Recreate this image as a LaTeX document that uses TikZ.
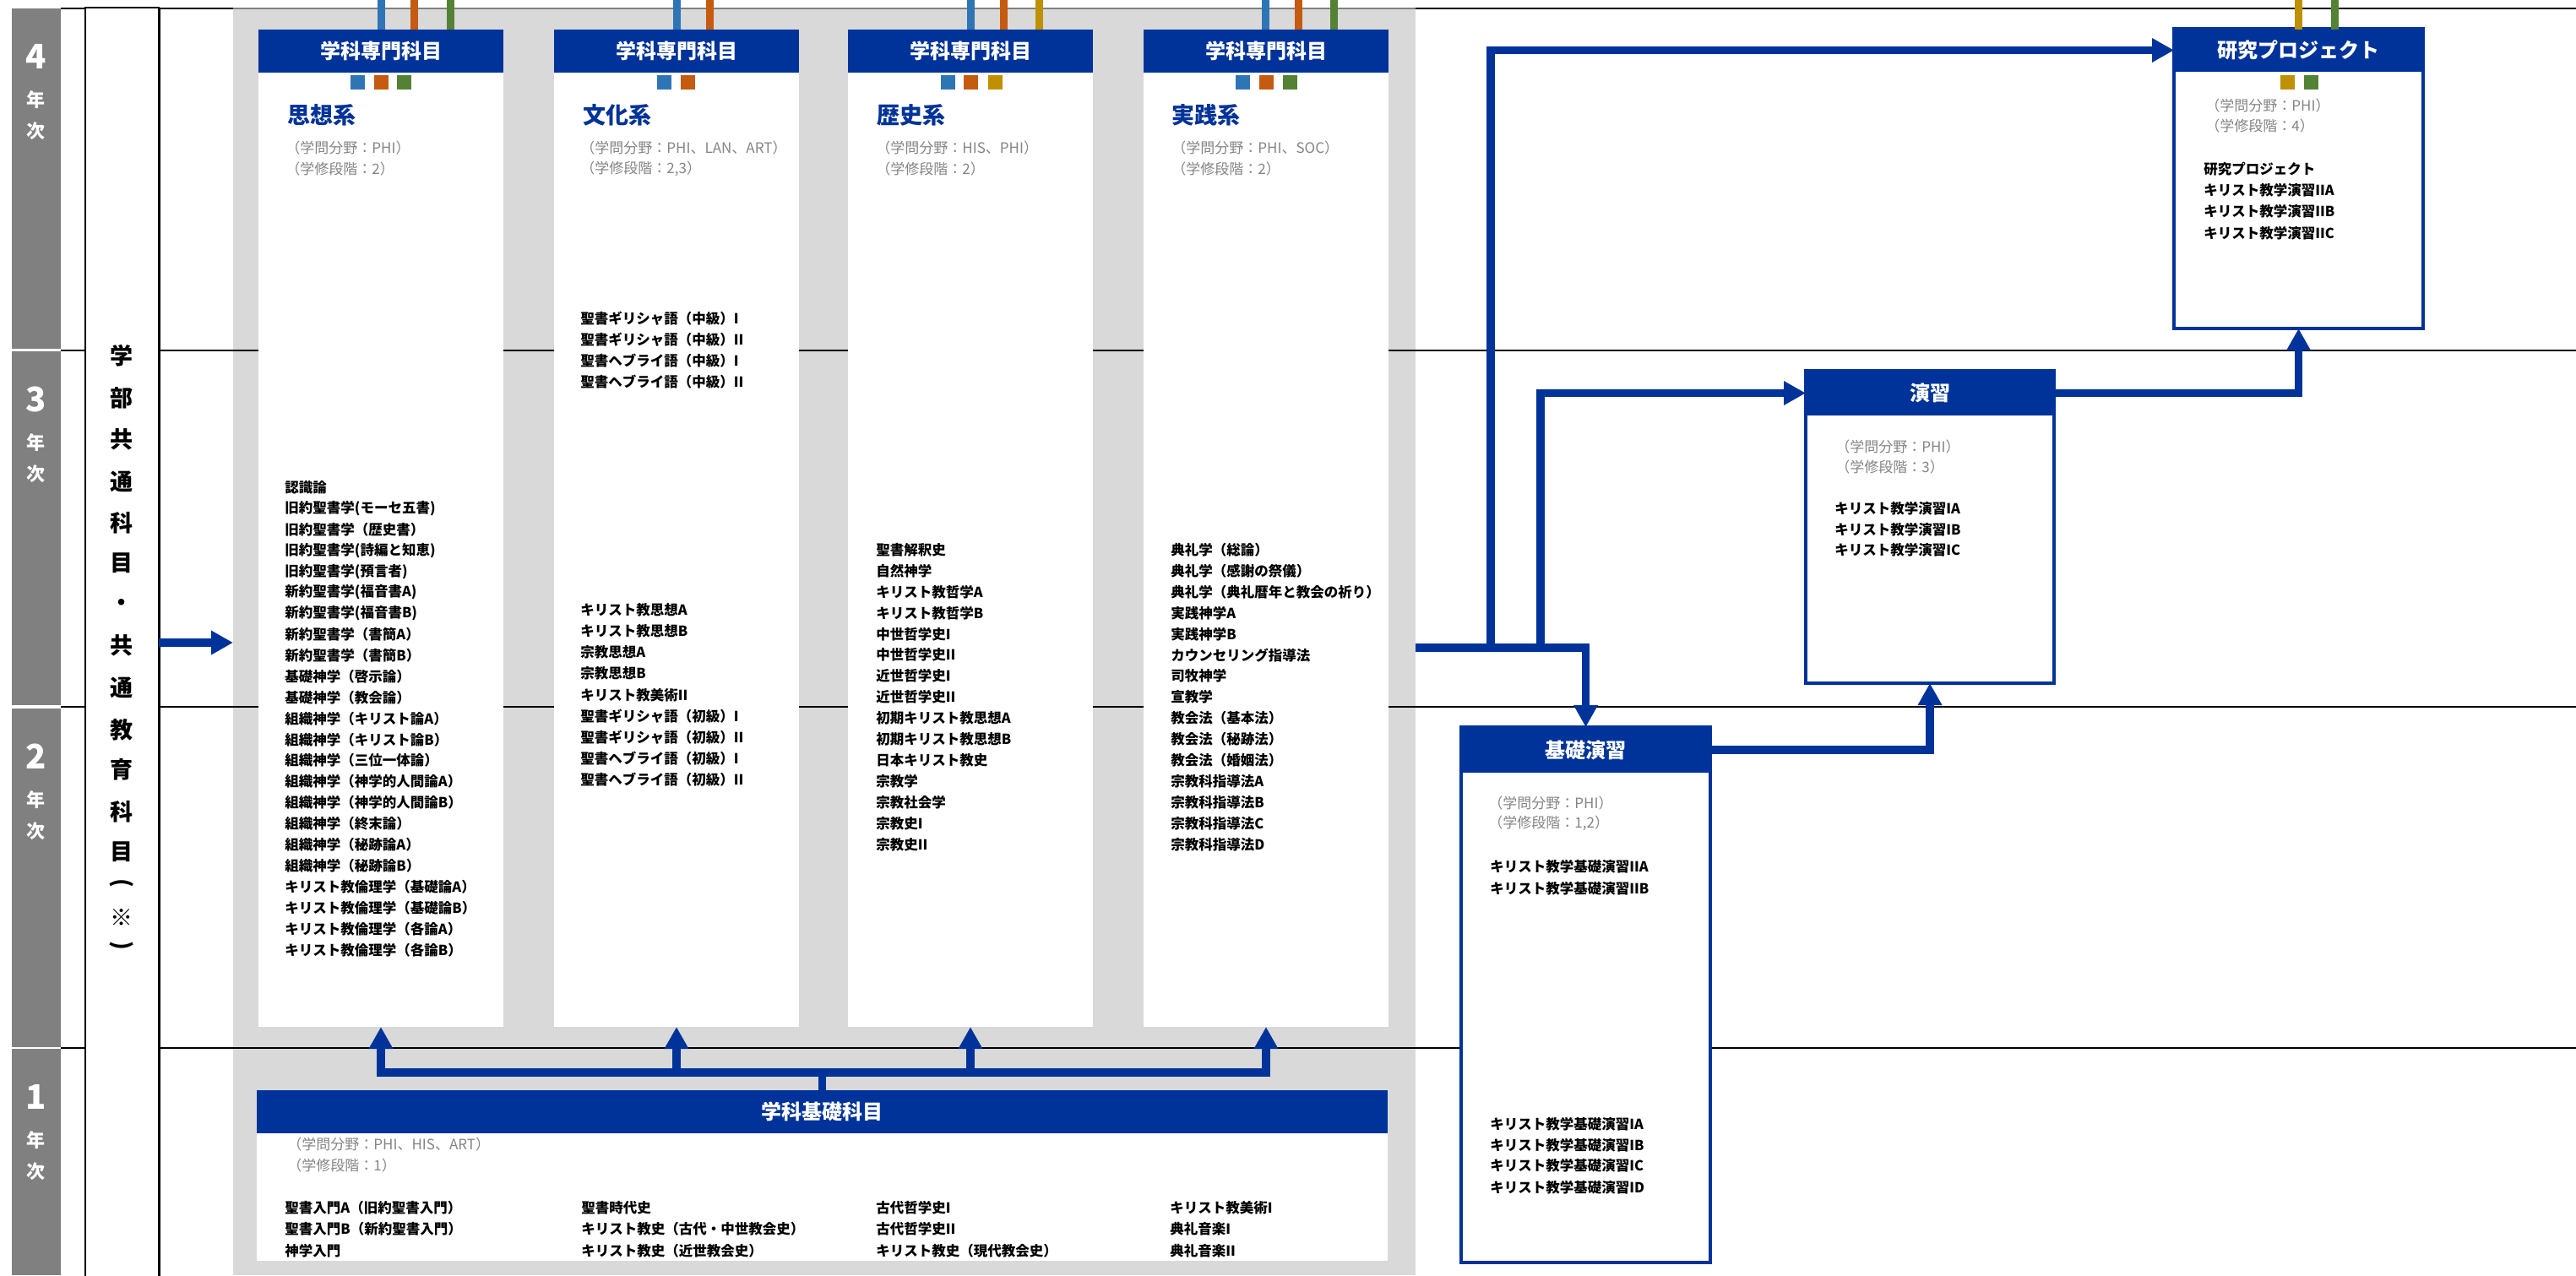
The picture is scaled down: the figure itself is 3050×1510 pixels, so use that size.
\documentclass[tikz,border=0pt]{standalone}
\usepackage{fontspec}
\setmainfont{Noto Sans CJK JP}
\usetikzlibrary{arrows.meta}
\definecolor{hdr}{HTML}{003399}
\definecolor{cblue}{HTML}{2E75B6}
\definecolor{corange}{HTML}{C55A11}
\definecolor{cgreen}{HTML}{548235}
\definecolor{cgold}{HTML}{BF9000}
\definecolor{panelgray}{HTML}{D9D9D9}
\definecolor{yeargray}{HTML}{808080}
\definecolor{subgray}{HTML}{858585}
\newcommand\mysq[2]{\fill[#1] ({#2-8.5},89) rectangle ({#2+8.5},106);}
\newcommand\mybar[2]{\draw[#1,line width=4.5pt] (#2,0) -- (#2,35);}
\begin{document}
\begin{tikzpicture}[x=0.5pt,y=-0.5pt,
  box/.style={inner sep=0pt, outer sep=0pt, anchor=north west},
  hdrbox/.style={box, fill=hdr, text=white, font=\fontsize{12pt}{13pt}\selectfont\bfseries},
  body/.style={box, fill=white},
  bbody/.style={box, fill=white, draw=hdr, line width=1.6pt},
  ttl/.style={anchor=west, inner sep=0pt, text=hdr, font=\fontsize{13.5pt}{15pt}\selectfont\bfseries},
  sub/.style={anchor=west, inner sep=0pt, text=subgray, font=\fontsize{8.5pt}{10pt}\selectfont},
  item/.style={anchor=west, inner sep=0pt, font=\fontsize{8.25pt}{10pt}\selectfont\bfseries},
  yr/.style={text=white, inner sep=0pt, font=\fontsize{20pt}{22pt}\selectfont\bfseries},
  yrs/.style={text=white, inner sep=0pt, font=\fontsize{11pt}{12pt}\selectfont\bfseries},
  vt/.style={inner sep=0pt, font=\fontsize{13.5pt}{15pt}\selectfont\bfseries},
  flow/.style={draw=hdr, line width=4.75pt},
  conn/.style={flow, -{Triangle[length=13pt,width=13.5pt]}},
  yline/.style={draw=black, line width=0.65pt}
]
\useasboundingbox (0,0) rectangle (3050,1510);

% year bands
\node[box, fill=yeargray, minimum width=29pt, minimum height=201.5pt] (y4) at (14,10) {};
\node[box, fill=yeargray, minimum width=29pt, minimum height=209.5pt] (y3) at (14,416) {};
\node[box, fill=yeargray, minimum width=29pt, minimum height=200.5pt] (y2) at (14,839) {};
\node[box, fill=yeargray, minimum width=29pt, minimum height=134pt] (y1) at (14,1242) {};
\foreach \n/\t in {4/10,3/416,2/839,1/1242} {
  \node[yr] (yn\n) at (43,{\t+57}) {\n};
  \node[yrs] (ya\n) at (43,{\t+108}) {年};
  \node[yrs] (yb\n) at (43,{\t+145}) {次};
}

% gray panel
\node[box, fill=panelgray, minimum width=700pt, minimum height=750pt] (panel) at (276,10) {};

% horizontal year lines
\foreach \yy in {415,837,1241} \draw[yline] (72,\yy) -- (3050,\yy);
\draw[yline] (72,10) -- (276,10);
\draw[yline] (1676,10) -- (3050,10);
\draw[line width=0.65pt, draw=gray] (276,10) -- (1676,10);

% left common-subject box
\node[box, fill=white, draw=black, line width=0.9pt, minimum width=43.5pt, minimum height=752pt] (leftbox) at (101,9) {};
\draw[line width=1.5pt] (leftbox.north east) -- (leftbox.south east);
\foreach \c/\yy [count=\k] in {学/421,部/471,共/520,通/570,科/619,目/667,・/716,共/764,通/814,教/864,育/911,科/961,目/1009,※/1086}
  \node[vt] (v\k) at (144,\yy) {\c};
\node[vt, rotate=-90] (vp1) at (144,1046) {(};
\node[vt, rotate=-90] (vp2) at (144,1120) {)};

% specialised columns
\foreach \i/\xx in {1/306,2/656,3/1004,4/1354} {
  \node[body, minimum width=145pt, minimum height=590.5pt] (b\i) at (\xx,35) {};
  \node[hdrbox, minimum width=145pt, minimum height=25.5pt] (h\i) at (\xx,35) {学科専門科目};
}

% colour bars and squares
\mybar{cblue}{451.5} \mybar{corange}{490.5} \mybar{cgreen}{533.5}
\mysq{cblue}{423} \mysq{corange}{451.5} \mysq{cgreen}{478.5}
\mybar{cblue}{801.5} \mybar{corange}{840}
\mysq{cblue}{786} \mysq{corange}{814.5}
\mybar{cblue}{1149.5} \mybar{corange}{1188.5} \mybar{cgold}{1230.5}
\mysq{cblue}{1122} \mysq{corange}{1149.5} \mysq{cgold}{1178}
\mybar{cblue}{1498.5} \mybar{corange}{1537.5} \mybar{cgreen}{1579.5}
\mysq{cblue}{1471.5} \mysq{corange}{1499.5} \mysq{cgreen}{1527.5}

% titles and sub texts
\node[ttl] (t1) at (340,136) {思想系};
\node[ttl] (t2) at (690,136) {文化系};
\node[ttl] (t3) at (1038,136) {歴史系};
\node[ttl] (t4) at (1387,136) {実践系};
\node[sub] (s1a) at (338,175) {（学問分野：PHI）};
\node[sub] (s1b) at (338,200) {（学修段階：2）};
\node[sub] (s2a) at (687,175) {（学問分野：PHI、LAN、ART）};
\node[sub] (s2b) at (687,200) {（学修段階：2,3）};
\node[sub] (s3a) at (1037,175) {（学問分野：HIS、PHI）};
\node[sub] (s3b) at (1037,200) {（学修段階：2）};
\node[sub] (s4a) at (1387,175) {（学問分野：PHI、SOC）};
\node[sub] (s4b) at (1387,200) {（学修段階：2）};

% column 1 items
\foreach \t [count=\n from 0] in {{認識論},{旧約聖書学(モーセ五書)},{旧約聖書学（歴史書）},{旧約聖書学(詩編と知恵)},{旧約聖書学(預言者)},{新約聖書学(福音書A)},{新約聖書学(福音書B)},{新約聖書学（書簡A）},{新約聖書学（書簡B）},{基礎神学（啓示論）},{基礎神学（教会論）},{組織神学（キリスト論A）},{組織神学（キリスト論B）},{組織神学（三位一体論）},{組織神学（神学的人間論A）},{組織神学（神学的人間論B）},{組織神学（終末論）},{組織神学（秘跡論A）},{組織神学（秘跡論B）},{キリスト教倫理学（基礎論A）},{キリスト教倫理学（基礎論B）},{キリスト教倫理学（各論A）},{キリスト教倫理学（各論B）}}
  \node[item] (c1i\n) at (337,{577+24.9*\n}) {\t};
% column 2 items
\foreach \t [count=\n from 0] in {{聖書ギリシャ語（中級）I},{聖書ギリシャ語（中級）II},{聖書ヘブライ語（中級）I},{聖書ヘブライ語（中級）II}}
  \node[item] (c2u\n) at (687,{377+25*\n}) {\t};
\foreach \t [count=\n from 0] in {{キリスト教思想A},{キリスト教思想B},{宗教思想A},{宗教思想B},{キリスト教美術II},{聖書ギリシャ語（初級）I},{聖書ギリシャ語（初級）II},{聖書ヘブライ語（初級）I},{聖書ヘブライ語（初級）II}}
  \node[item] (c2l\n) at (687,{722+25.2*\n}) {\t};
% column 3 items
\foreach \t [count=\n from 0] in {{聖書解釈史},{自然神学},{キリスト教哲学A},{キリスト教哲学B},{中世哲学史I},{中世哲学史II},{近世哲学史I},{近世哲学史II},{初期キリスト教思想A},{初期キリスト教思想B},{日本キリスト教史},{宗教学},{宗教社会学},{宗教史I},{宗教史II}}
  \node[item] (c3i\n) at (1037,{651+24.93*\n}) {\t};
% column 4 items
\foreach \t [count=\n from 0] in {{典礼学（総論）},{典礼学（感謝の祭儀）},{典礼学（典礼暦年と教会の祈り）},{実践神学A},{実践神学B},{カウンセリング指導法},{司牧神学},{宣教学},{教会法（基本法）},{教会法（秘跡法）},{教会法（婚姻法）},{宗教科指導法A},{宗教科指導法B},{宗教科指導法C},{宗教科指導法D}}
  \node[item] (c4i\n) at (1386,{651+24.93*\n}) {\t};

% basic subjects box
\node[body, minimum width=669.5pt, minimum height=101pt] (kisoB) at (304,1291) {};
\node[hdrbox, minimum width=669.5pt, minimum height=25.5pt] (kisoH) at (304,1291) {学科基礎科目};
\node[sub] (ks1) at (340,1355) {（学問分野：PHI、HIS、ART）};
\node[sub] (ks2) at (340,1380) {（学修段階：1）};
\foreach \a/\b/\c/\xx [count=\k] in {{聖書入門A（旧約聖書入門）}/{聖書入門B（新約聖書入門）}/{神学入門}/337,{聖書時代史}/{キリスト教史（古代・中世教会史）}/{キリスト教史（近世教会史）}/688,{古代哲学史I}/{古代哲学史II}/{キリスト教史（現代教会史）}/1037,{キリスト教美術I}/{典礼音楽I}/{典礼音楽II}/1385} {
  \node[item] (ka\k) at (\xx,1430) {\a};
  \node[item] (kb\k) at (\xx,1455) {\b};
  \node[item] (kc\k) at (\xx,1481) {\c};
}

% research project box
\node[bbody, minimum width=147.5pt, minimum height=177.5pt] (projB) at (2574,34) {};
\node[hdrbox, minimum width=147.5pt, minimum height=25.5pt] (projH) at (2574,34) {研究プロジェクト};
\mybar{cgold}{2721.5} \mybar{cgreen}{2764.5}
\mysq{cgold}{2708} \mysq{cgreen}{2736}
\node[sub] (ps1) at (2611,125) {（学問分野：PHI）};
\node[sub] (ps2) at (2611,149) {（学修段階：4）};
\node[item] (pi1) at (2609,200) {研究プロジェクト};
\node[item] (pi2) at (2609,225) {キリスト教学演習IIA};
\node[item] (pi3) at (2609,250) {キリスト教学演習IIB};
\node[item] (pi4) at (2609,276) {キリスト教学演習IIC};

% seminar box
\node[bbody, minimum width=147pt, minimum height=185pt] (enB) at (2138,439) {};
\node[hdrbox, minimum width=147pt, minimum height=26.5pt] (enH) at (2138,439) {演習};
\node[sub] (es1) at (2173,529) {（学問分野：PHI）};
\node[sub] (es2) at (2173,553) {（学修段階：3）};
\node[item] (ei1) at (2172,602) {キリスト教学演習IA};
\node[item] (ei2) at (2172,627) {キリスト教学演習IB};
\node[item] (ei3) at (2172,651) {キリスト教学演習IC};

% basic seminar box
\node[bbody, minimum width=147.5pt, minimum height=317pt] (keB) at (1730,861) {};
\node[hdrbox, minimum width=147.5pt, minimum height=27pt] (keH) at (1730,861) {基礎演習};
\node[sub] (ds1) at (1762,951) {（学問分野：PHI）};
\node[sub] (ds2) at (1762,975) {（学修段階：1,2）};
\node[item] (di1) at (1764,1026) {キリスト教学基礎演習IIA};
\node[item] (di2) at (1764,1052) {キリスト教学基礎演習IIB};
\node[item] (di3) at (1764,1331) {キリスト教学基礎演習IA};
\node[item] (di4) at (1764,1356) {キリスト教学基礎演習IB};
\node[item] (di5) at (1764,1380) {キリスト教学基礎演習IC};
\node[item] (di6) at (1764,1406) {キリスト教学基礎演習ID};

% connectors
\coordinate (la) at (0,761);
\draw[conn] (leftbox.east |- la) -- (panel.west |- la);
\coordinate (bus) at (0,1270);
\foreach \i in {1,...,4}
  \draw[conn] (kisoH.north) -- (kisoH.north |- bus) -| (b\i.south);
\coordinate (tr) at (0,767);
\coordinate (j1) at (1765,767);
\coordinate (j2) at (1824,767);
\draw[conn] (panel.east |- tr) -| (keH.north);
\draw[conn] (j1) |- (projH.west);
\draw[conn] (j2) |- (enH.west);
\draw[conn] (enH.east) -| (projB.south);
\draw[conn] (keH.east) -| (enB.south);
\end{tikzpicture}
\end{document}
